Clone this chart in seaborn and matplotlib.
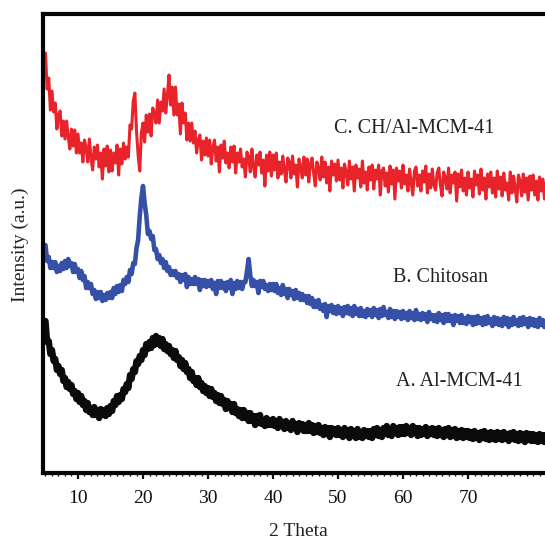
import numpy as np
import pandas as pd
import matplotlib
matplotlib.use("Agg")
import matplotlib.pyplot as plt
from matplotlib.ticker import MultipleLocator, FixedLocator
import seaborn as sns

# 2-theta grid, 0.25 degree steps from 5 to 82
two_theta = np.arange(5.0, 82.001, 0.25)

# C. CH/Al-MCM-41 (offset trace, arbitrary units); one row = 5 degrees
ch_al_mcm = [
    420, 384, 395, 363, 382, 361, 370, 344, 358, 362, 337, 352, 334, 352, 336, 324, 344, 327, 343, 320,
    339, 320, 330, 311, 333, 325, 311, 334, 315, 303, 326, 314, 328, 306, 320, 294, 324, 307, 327, 301,
    323, 302, 320, 310, 328, 298, 324, 309, 330, 314, 326, 316, 348, 344, 372, 380, 342, 318, 302, 340,
    350, 331, 358, 341, 359, 337, 365, 359, 350, 373, 350, 371, 362, 384, 360, 377, 398, 368, 386, 358,
    386, 358, 369, 339, 370, 350, 360, 333, 350, 332, 350, 330, 342, 320, 333, 338, 313, 332, 318, 335,
    317, 333, 309, 326, 333, 312, 326, 301, 328, 315, 332, 310, 320, 305, 326, 311, 327, 300, 320, 311,
    324, 306, 314, 296, 321, 316, 301, 324, 306, 296, 318, 308, 321, 300, 313, 287, 318, 302, 321, 297,
    318, 303, 320, 295, 311, 299, 317, 303, 291, 315, 311, 295, 317, 299, 308, 286, 314, 306, 295, 316,
    298, 314, 291, 309, 315, 300, 287, 311, 305, 293, 316, 296, 311, 290, 306, 282, 312, 298, 309, 292,
    313, 293, 305, 285, 309, 301, 288, 312, 294, 306, 282, 308, 295, 304, 286, 312, 290, 301, 283, 306,
    293, 308, 284, 303, 294, 308, 278, 302, 305, 287, 300, 281, 307, 289, 303, 274, 305, 292, 302, 285,
    308, 289, 298, 282, 304, 291, 278, 302, 306, 287, 298, 282, 302, 291, 307, 280, 299, 285, 304, 288,
    283, 300, 305, 288, 277, 301, 295, 284, 305, 280, 298, 290, 301, 272, 299, 286, 303, 282, 295, 278,
    301, 285, 294, 276, 302, 288, 298, 279, 304, 283, 295, 274, 299, 286, 301, 280, 295, 276, 302, 284,
    296, 277, 300, 283, 290, 273, 301, 280, 297, 285, 271, 298, 292, 277, 299, 281, 295, 273, 297, 283,
    298, 278, 292, 273, 296, 282, 294, 274, 291,
]

# B. Chitosan
chitosan = [
    228, 212, 216, 205, 211, 205, 211, 201, 207, 202, 210, 204, 212, 205, 214, 207, 210, 201, 209, 201,
    204, 195, 202, 193, 197, 185, 191, 185, 189, 179, 183, 174, 181, 175, 181, 172, 178, 173, 180, 175,
    181, 175, 185, 179, 187, 181, 188, 182, 193, 189, 196, 191, 203, 199, 210, 209, 225, 233, 257, 275,
    287, 270, 258, 239, 242, 234, 237, 223, 224, 214, 218, 210, 214, 205, 211, 202, 206, 198, 202, 198,
    202, 195, 199, 191, 198, 193, 199, 186, 196, 189, 194, 189, 196, 189, 194, 183, 193, 187, 193, 186,
    192, 187, 193, 184, 190, 179, 192, 185, 192, 185, 190, 182, 191, 185, 193, 179, 190, 184, 192, 185,
    191, 184, 191, 191, 202, 214, 198, 187, 193, 187, 191, 180, 192, 186, 192, 184, 188, 182, 189, 183,
    189, 182, 189, 180, 185, 178, 188, 179, 184, 175, 184, 178, 182, 174, 183, 175, 180, 173, 179, 173,
    177, 170, 177, 169, 175, 166, 172, 166, 173, 164, 168, 162, 169, 156, 167, 162, 168, 160, 166, 159,
    167, 160, 165, 157, 166, 160, 167, 159, 165, 157, 167, 159, 164, 157, 165, 157, 162, 156, 164, 158,
    163, 156, 165, 158, 163, 155, 164, 157, 166, 158, 161, 155, 164, 156, 162, 154, 162, 156, 161, 154,
    162, 155, 160, 153, 162, 155, 160, 153, 163, 154, 159, 153, 160, 154, 159, 151, 161, 154, 158, 152,
    158, 151, 160, 153, 158, 150, 159, 152, 159, 152, 157, 148, 158, 152, 157, 150, 158, 150, 155, 149,
    157, 151, 156, 148, 156, 149, 157, 150, 155, 148, 156, 149, 157, 150, 154, 147, 156, 149, 155, 148,
    154, 147, 156, 149, 155, 146, 154, 148, 156, 149, 153, 147, 155, 148, 156, 149, 154, 146, 155, 148,
    154, 147, 153, 146, 155, 148, 153, 146, 152,
]

# A. Al-MCM-41
al_mcm = [
    152, 131, 132, 119, 123, 112, 114, 103, 107, 99, 103, 92, 95, 86, 91, 84, 88, 79, 82, 74,
    80, 71, 77, 68, 72, 63, 70, 61, 65, 58, 66, 58, 63, 55, 64, 58, 63, 57, 65, 59,
    67, 62, 72, 68, 77, 71, 78, 74, 84, 81, 89, 85, 98, 94, 104, 101, 112, 109, 117, 113,
    123, 118, 129, 124, 131, 125, 135, 128, 137, 129, 135, 127, 134, 124, 129, 122, 127, 119, 123, 115,
    122, 113, 116, 107, 113, 104, 110, 101, 104, 95, 101, 92, 95, 88, 95, 86, 90, 82, 87, 80,
    85, 77, 84, 76, 80, 72, 78, 70, 77, 69, 73, 64, 72, 65, 69, 61, 69, 60, 64, 57,
    63, 55, 63, 55, 60, 52, 60, 52, 57, 48, 57, 50, 58, 49, 53, 47, 55, 48, 53, 48,
    54, 47, 52, 45, 54, 47, 51, 44, 52, 45, 49, 43, 52, 45, 49, 41, 50, 44, 49, 42,
    48, 42, 50, 42, 48, 40, 47, 41, 48, 40, 45, 38, 46, 39, 45, 36, 45, 39, 44, 38,
    45, 38, 43, 36, 45, 38, 43, 35, 44, 37, 42, 35, 44, 36, 41, 35, 43, 37, 42, 36,
    42, 35, 44, 38, 45, 37, 43, 36, 45, 39, 47, 38, 43, 37, 47, 40, 45, 38, 46, 39,
    46, 39, 47, 40, 45, 38, 47, 40, 45, 37, 45, 38, 44, 39, 46, 37, 44, 39, 45, 38,
    44, 37, 45, 38, 43, 36, 44, 38, 45, 36, 43, 37, 44, 35, 42, 36, 43, 35, 42, 36,
    42, 35, 41, 34, 42, 35, 40, 33, 41, 35, 42, 34, 40, 33, 41, 34, 40, 33, 41, 34,
    40, 33, 41, 34, 39, 32, 40, 34, 41, 33, 39, 32, 40, 33, 39, 31, 40, 33, 39, 32,
    39, 32, 38, 31, 39, 32, 38, 31, 38,
]

labels = ["C. CH/Al-MCM-41", "B. Chitosan", "A. Al-MCM-41"]
label_x = [61.7, 65.8, 68.6]
label_y = [345, 196, 92]
major_ticks = [10, 20, 30, 40, 50, 60, 70]

sns.set_theme(style="white")
plt.rcParams["font.family"] = ["Liberation Serif", "DejaVu Serif"]

fig = plt.figure(figsize=(5.45, 5.39), dpi=100)
ax = fig.add_axes([0.0787, 0.1224, 0.959, 0.8516])

n = len(two_theta)
df = pd.DataFrame({
    "two_theta": np.concatenate([two_theta] * 3),
    "intensity": np.concatenate([al_mcm, chitosan, ch_al_mcm]),
    "sample": ["A"] * n + ["B"] * n + ["C"] * n,
})

styles = {"A": ("#0b0b0b", 4.6), "B": ("#3550a6", 3.3), "C": ("#e8232a", 2.2)}
for key, (color, lw) in styles.items():
    sub = df[df["sample"] == key]
    sns.lineplot(data=sub, x="two_theta", y="intensity", ax=ax,
                 color=color, linewidth=lw, estimator=None, sort=False)

for text, tx, ty in zip(labels, label_x, label_y):
    ax.text(tx, ty, text, ha="center", va="center", fontsize=14.5, color="#222222")

ax.set_xlim(4.6, 85)
ax.set_ylim(0, 459)

ax.xaxis.set_major_locator(FixedLocator(major_ticks))
ax.xaxis.set_minor_locator(MultipleLocator(1))
ax.set_yticks([])
ax.tick_params(axis="x", which="major", direction="out", length=4, width=1.6,
               labelsize=14, pad=8, colors="#111111", bottom=True)
ax.tick_params(axis="x", which="minor", direction="out", length=2.2, width=1.0,
               bottom=True, colors="#111111")

for side in ["left", "bottom", "top", "right"]:
    ax.spines[side].set_linewidth(3.0)
    ax.spines[side].set_color("#050505")

ax.set_xlabel("2 Theta", fontsize=14, color="#222222")
ax.set_ylabel("Intensity (a.u.)", fontsize=14, color="#222222")
ax.xaxis.set_label_coords(0.488, -0.108)
ax.yaxis.set_label_coords(-0.044, 0.497)
ax.yaxis.label.set_va("center")

fig.savefig("out.png", dpi=100)
